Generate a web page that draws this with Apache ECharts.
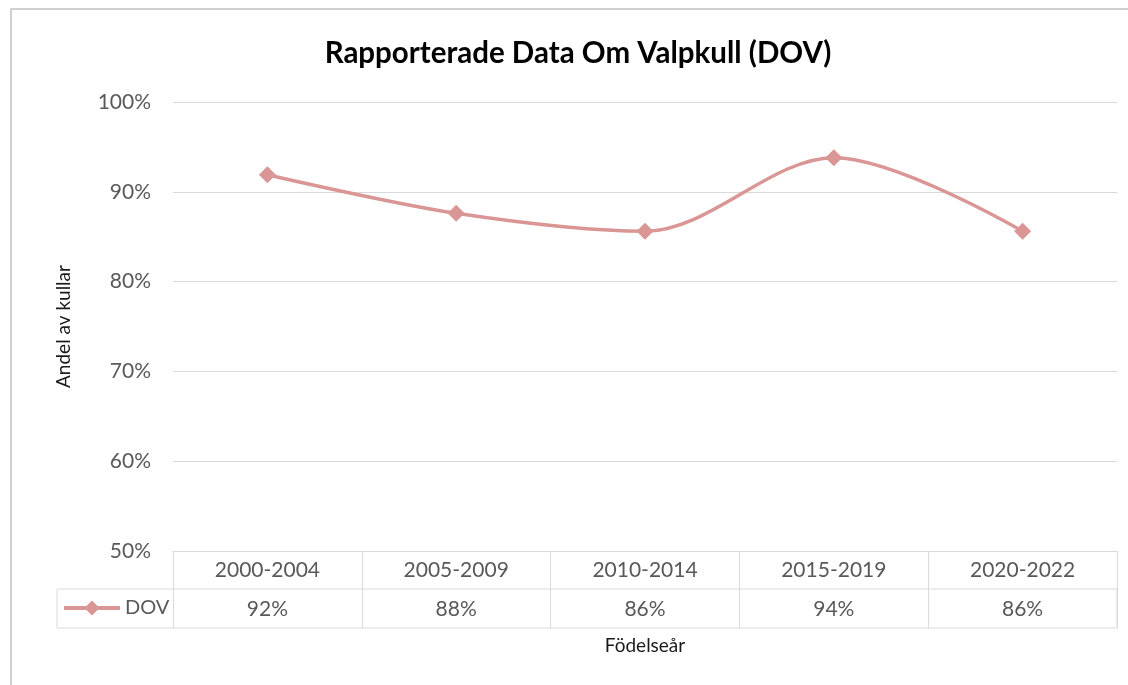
<!DOCTYPE html>
<html>
<head>
<meta charset="utf-8">
<script src="https://cdn.jsdelivr.net/npm/echarts@6/dist/echarts.min.js"></script>
<style>
  html, body { margin: 0; padding: 0; background: #fff; }
  #chart { width: 1128px; height: 685px; }
</style>
</head>
<body>
<div id="chart"></div>
<script>
// data
var periods = ['2000-2004', '2005-2009', '2010-2014', '2015-2019', '2020-2022'];
var dovValues = [91.9, 87.6, 85.6, 93.8, 85.6];
var yTicks = { min: 50, max: 100, step: 10 };

var font = 'Lato, "Liberation Sans", sans-serif';
var gridColor = '#d9d9d9';
var lineColor = '#d99694';

var chart = echarts.init(document.getElementById('chart'));
var option = {
    backgroundColor: '#fff',
    textStyle: { fontFamily: font },
    title: {
        text: 'Rapporterade Data Om Valpkull (DOV)',
        left: 578,
        top: 38,
        padding: 0,
        textAlign: 'center',
        textStyle: { fontFamily: font, fontSize: 29.5, fontWeight: 'bold', color: '#000' }
    },
    legend: {
        data: ['DOV'],
        left: 62,
        top: 598,
        padding: 0,
        itemWidth: 56,
        itemHeight: 19,
        lineStyle: { width: 4 },
        textStyle: { fontFamily: font, fontSize: 20, color: '#595959' }
    },
    graphic: [
        {   // chart frame (only left and top edge are in view)
            type: 'rect',
            shape: { x: 11, y: 9, width: 1300, height: 900 },
            style: { fill: 'none', stroke: '#d0d0d0', lineWidth: 2 },
            silent: true
        }
    ],
    grid: [
        { left: 173, right: 11, top: 102, bottom: 134 },
        // data table row for the series (box from the legend cell to the right edge)
        { left: 57, right: 11, top: 589, height: 39, show: true, borderColor: gridColor, borderWidth: 1 }
    ],
    xAxis: [
        {
            gridIndex: 0,
            type: 'category',
            data: periods,
            boundaryGap: true,
            axisLine: { lineStyle: { color: gridColor, width: 1 } },
            axisTick: { show: true, interval: 0, length: 77, lineStyle: { color: gridColor } },
            axisLabel: { interval: 0, margin: 9, fontSize: 21, color: '#595959', fontFamily: font },
            name: 'Födelseår',
            nameLocation: 'middle',
            nameGap: 85,
            nameTextStyle: { fontSize: 19, color: '#1a1a1a', fontFamily: font }
        },
        {   // second table row: values
            gridIndex: 0,
            type: 'category',
            data: periods,
            position: 'bottom',
            offset: 38,
            axisLine: { show: false },
            axisTick: { show: false },
            axisLabel: {
                interval: 0, margin: 10, fontSize: 21, color: '#595959', fontFamily: font,
                formatter: function (v, i) { return Math.round(dovValues[i]) + '%'; }
            }
        },
        { gridIndex: 1, type: 'value', show: false }
    ],
    yAxis: [
        {
            gridIndex: 0,
            type: 'value',
            min: yTicks.min,
            max: yTicks.max,
            interval: yTicks.step,
            axisLine: { show: false },
            axisTick: { show: false },
            splitLine: { lineStyle: { color: gridColor, width: 1 } },
            axisLabel: { margin: 22, fontSize: 21, color: '#595959', fontFamily: font, formatter: '{value}%' },
            name: 'Andel av kullar',
            nameLocation: 'middle',
            nameGap: 100,
            nameTextStyle: { fontSize: 19, color: '#1a1a1a', fontFamily: font }
        },
        { gridIndex: 1, type: 'value', show: false }
    ],
    series: [
        {
            name: 'DOV',
            type: 'line',
            xAxisIndex: 0,
            yAxisIndex: 0,
            data: dovValues,
            smooth: 0.33,
            symbol: 'diamond',
            symbolSize: 17,
            itemStyle: { color: lineColor },
            lineStyle: { color: lineColor, width: 3.5 }
        }
    ]
};
chart.setOption(option);
</script>
</body>
</html>
